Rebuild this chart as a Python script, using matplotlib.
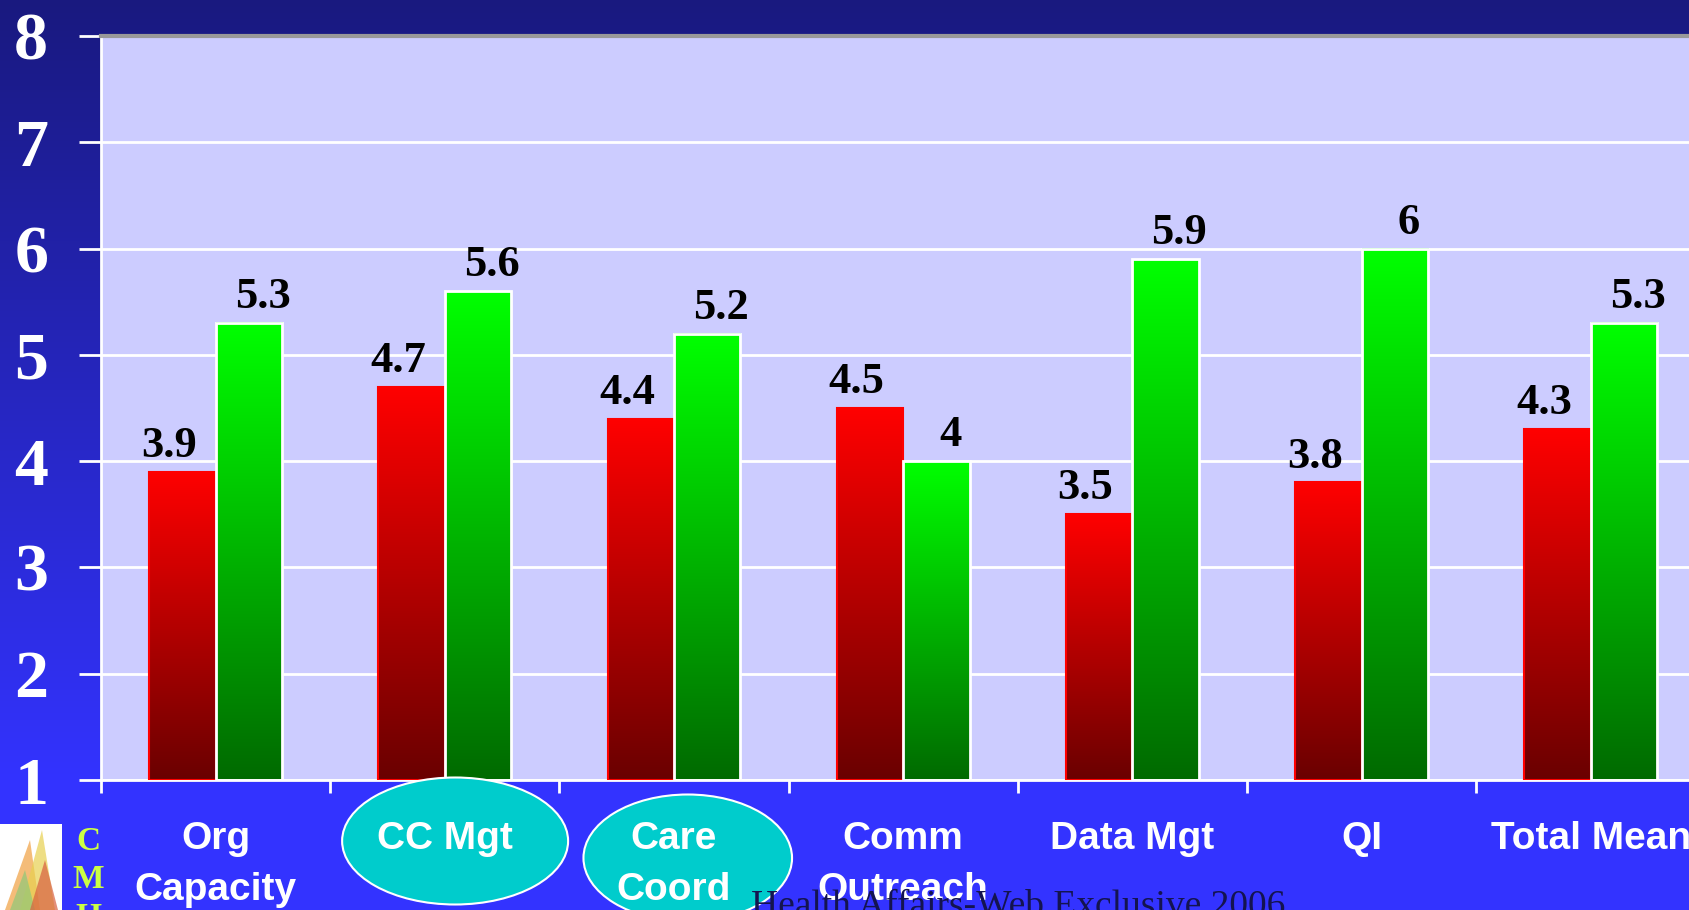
import numpy as np
import matplotlib
matplotlib.use('Agg')
import matplotlib.pyplot as plt
from matplotlib.patches import Ellipse, Polygon, Rectangle
from matplotlib.transforms import blended_transform_factory
from matplotlib.colors import LinearSegmentedColormap

# scores per domain, before (red) and after (green)
categories = ['Org\nCapacity', 'CC Mgt', 'Care\nCoord', 'Comm\nOutreach', 'Data Mgt', 'QI', 'Total Mean']
before = [3.9, 4.7, 4.4, 4.5, 3.5, 3.8, 4.3]
after = [5.3, 5.6, 5.2, 4.0, 5.9, 6.0, 5.3]
before_labels = ['3.9', '4.7', '4.4', '4.5', '3.5', '3.8', '4.3']
after_labels = ['5.3', '5.6', '5.2', '4', '5.9', '6', '5.3']
highlighted = ['CC Mgt', 'Care\nCoord']
yticks = [1, 2, 3, 4, 5, 6, 7, 8]
source = 'Health Affairs-Web Exclusive 2006'
logo_letters = ['C', 'M', 'H']

W, H = 1689, 910
fig = plt.figure(figsize=(W / 100, H / 100), dpi=100)

# background gradient, navy at top to bright blue
bg = fig.add_axes([0, 0, 1, 1], zorder=-10)
top_c = np.array([0x19, 0x19, 0x7f]) / 255
bot_c = np.array([0x33, 0x33, 0xff]) / 255
t = np.clip(np.arange(H) / 780, 0, 1)[:, None]
grad = (top_c * (1 - t) + bot_c * t)[:, None, :]
bg.imshow(grad, aspect='auto', extent=[0, 1, 0, 1])
bg.set_axis_off()

ax = fig.add_axes([101 / W, 1 - 780 / H, 1 - 101 / W, (780 - 36) / H])
ax.set_facecolor('#ccccff')

x = np.arange(len(categories))
w = 0.29
red_cmap = LinearSegmentedColormap.from_list('r', ['#6a0000', '#ff0000'])
green_cmap = LinearSegmentedColormap.from_list('g', ['#006a00', '#00ff00'])
ramp = np.linspace(0, 1, 256)[::-1][:, None]

bars_b = ax.bar(x - w / 2, np.array(before) - 1, w, bottom=1, facecolor='none',
                edgecolor='#ff0000', linewidth=1.5, zorder=3)
bars_a = ax.bar(x + w / 2, np.array(after) - 1, w, bottom=1, facecolor='none',
                edgecolor='white', linewidth=2, zorder=3)
for bars, cmap in [(bars_b, red_cmap), (bars_a, green_cmap)]:
    for p in bars:
        ax.imshow(ramp, cmap=cmap, aspect='auto', zorder=2,
                  extent=[p.get_x(), p.get_x() + p.get_width(), p.get_y(), p.get_y() + p.get_height()])

lab_font = dict(fontsize=32, fontweight='bold', family='Liberation Serif', color='black',
                ha='center', va='baseline', zorder=5)
for i in range(len(categories)):
    ax.text(x[i] - w / 2 - 0.06, before[i] + 0.14, before_labels[i], **lab_font)
    ax.text(x[i] + w / 2 + 0.06, after[i] + 0.14, after_labels[i], **lab_font)

ax.set_ylim(1, 8)
ax.set_xlim(-0.5, -0.5 + (W - 101) / 229.2)
ax.set_yticks(yticks)
ax.set_yticklabels([str(v) for v in yticks], fontsize=49, fontweight='bold',
                   family='Liberation Serif', color='white')
ax.tick_params(axis='y', length=16, width=2, color='white', pad=22)
ax.yaxis.grid(True, color='white', linewidth=2)
ax.set_axisbelow(True)
ax.set_xticks(x[:-1] + 0.5, minor=False)
ax.set_xticks([-0.5], minor=True)
ax.set_xticklabels([])
ax.tick_params(axis='x', which='both', length=9, width=2, color='white')
for s in ['left', 'bottom']:
    ax.spines[s].set_color('white')
    ax.spines[s].set_linewidth(2)
ax.spines['right'].set_visible(False)
ax.spines['top'].set_color('#999999')
ax.spines['top'].set_linewidth(3)

# category labels and highlight ellipses below the axis
tr = blended_transform_factory(ax.transData, fig.transFigure)
for i, c in enumerate(categories):
    ax.text(x[i], 1 - 821 / H, c, transform=tr, ha='center', va='top', fontsize=28,
            fontweight='bold', family='Liberation Sans', color='white', linespacing=1.52,
            clip_on=False, zorder=8)
    if c in highlighted:
        k = highlighted.index(c)
        cx = x[i] + [0.045, 0.06][k]
        cy = 1 - [841, 858][k] / H
        ew = [0.986, 0.91][k]
        e = Ellipse((cx, cy), ew, 127 / H, transform=tr, facecolor='#00cccc',
                    edgecolor='white', linewidth=1.5, clip_on=False, zorder=7)
        ax.add_patch(e)

fig.text(751 / W, -6 / H, source, fontsize=27, family='Liberation Serif',
         color='#141450', ha='left', va='baseline', zorder=1)

# small logo bottom-left
fig.patches.append(Rectangle((0, 0), 62 / W, 86 / H, transform=fig.transFigure,
                             facecolor='white', edgecolor='none', zorder=2))
for pts, col in [([(5, 0), (30, 70), (40, 0)], '#f0a040'),
                 ([(20, 0), (42, 80), (55, 0)], '#e8d050'),
                 ([(10, 0), (25, 40), (35, 0)], '#90c878'),
                 ([(30, 0), (45, 50), (58, 0)], '#d86040')]:
    fig.patches.append(Polygon([(px / W, py / H) for px, py in pts], closed=True,
                               transform=fig.transFigure, facecolor=col, alpha=0.7,
                               edgecolor='none', zorder=3))
for j, letter in enumerate(logo_letters):
    fig.text(88 / W, 1 - (841 + 38 * j) / H, letter, fontsize=24, fontweight='bold',
             family='Liberation Serif', color='#ccff44', ha='center', va='center')

fig.savefig('out.png', dpi=100)
